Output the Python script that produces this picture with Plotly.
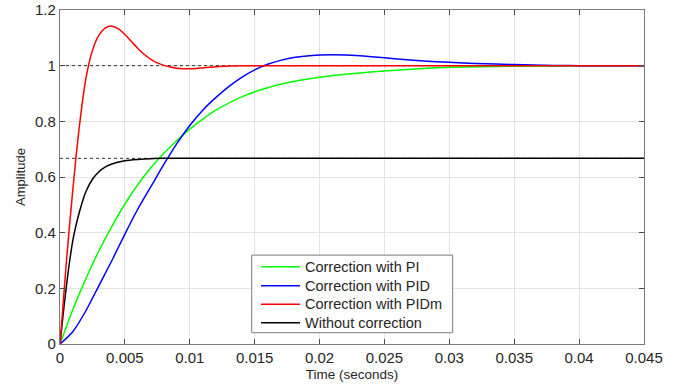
import plotly.graph_objects as go

# Time samples (seconds) and amplitudes
t_pi = [0, 0.001, 0.002, 0.003, 0.004, 0.005, 0.006, 0.007, 0.008, 0.009, 0.01,
        0.011, 0.012, 0.014, 0.016, 0.018, 0.02, 0.022, 0.025, 0.028, 0.03, 0.035, 0.04, 0.045]
y_pi = [0, 0.125, 0.235, 0.335, 0.423, 0.503, 0.573, 0.633, 0.685, 0.731, 0.772,
        0.808, 0.84, 0.888, 0.921, 0.943, 0.958, 0.969, 0.981, 0.99, 0.994, 0.998, 1.0, 1.0]

t_pid = [0, 0.001, 0.002, 0.003, 0.004, 0.005, 0.006, 0.007, 0.008, 0.009, 0.01,
         0.011, 0.012, 0.013, 0.014, 0.015, 0.016, 0.017, 0.018, 0.019, 0.02, 0.021,
         0.022, 0.024, 0.026, 0.028, 0.03, 0.032, 0.035, 0.038, 0.04, 0.045]
y_pid = [0, 0.045, 0.12, 0.21, 0.30, 0.395, 0.485, 0.565, 0.645, 0.72, 0.785,
         0.84, 0.885, 0.925, 0.958, 0.985, 1.005, 1.019, 1.029, 1.035, 1.038, 1.039,
         1.038, 1.032, 1.024, 1.017, 1.012, 1.008, 1.004, 1.001, 1.0, 1.0]

t_pidm = [0, 0.0005, 0.001, 0.0015, 0.002, 0.0025, 0.003, 0.0035, 0.004, 0.0045,
          0.005, 0.0055, 0.006, 0.0065, 0.007, 0.0075, 0.008, 0.0085, 0.009, 0.0095,
          0.01, 0.0105, 0.011, 0.0115, 0.012, 0.013, 0.014, 0.02, 0.045]
y_pidm = [0, 0.30, 0.56, 0.785, 0.955, 1.055, 1.11, 1.136, 1.142, 1.132,
          1.112, 1.087, 1.062, 1.04, 1.023, 1.01, 1.001, 0.995, 0.991, 0.989,
          0.989, 0.99, 0.992, 0.994, 0.996, 0.999, 1.0, 1.0, 1.0]

t_none = [0, 0.00025, 0.0005, 0.00075, 0.001, 0.00125, 0.0015, 0.00175, 0.002, 0.0025,
          0.003, 0.0035, 0.004, 0.005, 0.006, 0.007, 0.008, 0.045]
y_none = [0, 0.11, 0.21, 0.30, 0.375, 0.43, 0.475, 0.515, 0.548, 0.592,
          0.619, 0.636, 0.647, 0.658, 0.663, 0.666, 0.667, 0.667]

steady_levels = [1.0, 0.667]
x_range = [0, 0.045]

x_ticks = [0, 0.005, 0.01, 0.015, 0.02, 0.025, 0.03, 0.035, 0.04, 0.045]
x_tick_labels = ["0", "0.005", "0.01", "0.015", "0.02", "0.025", "0.03", "0.035", "0.04", "0.045"]
y_ticks = [0, 0.2, 0.4, 0.6, 0.8, 1.0, 1.2]
y_tick_labels = ["0", "0.2", "0.4", "0.6", "0.8", "1", "1.2"]

names = ["Correction with PI", "Correction with PID", "Correction with PIDm", "Without correction"]
colors = ["#00ff00", "#0000ff", "#ff0000", "#000000"]

FONT = "Liberation Sans, Arial"
TXT = "#262626"

fig = go.Figure()

for lvl in steady_levels:
    fig.add_trace(go.Scatter(x=x_range, y=[lvl, lvl], mode="lines",
                             line=dict(color="black", width=0.8, dash="dot"),
                             showlegend=False, hoverinfo="skip"))

series = [(t_pi, y_pi, 0), (t_pid, y_pid, 1), (t_none, y_none, 3), (t_pidm, y_pidm, 2)]
for tx, ty, i in series:
    fig.add_trace(go.Scatter(x=tx, y=ty, mode="lines", name=names[i],
                             line=dict(color=colors[i], width=1.5, shape="spline", smoothing=0.8),
                             showlegend=False))

# Legend drawn as a boxed panel (paper coordinates)
box_x0, box_x1, box_y0, box_y1 = 0.3283, 0.6724, 0.0338, 0.2661
sample_x0, sample_x1, text_x = 0.3442, 0.4110, 0.4155
row_y = [0.2311, 0.1743, 0.1187, 0.0637]

fig.add_shape(type="rect", xref="paper", yref="paper", x0=box_x0, x1=box_x1, y0=box_y0, y1=box_y1,
              line=dict(color="#7a7a7a", width=1), fillcolor="white", layer="above")
for i, name in enumerate(names):
    fig.add_shape(type="line", xref="paper", yref="paper", x0=sample_x0, x1=sample_x1,
                  y0=row_y[i], y1=row_y[i], line=dict(color=colors[i], width=1.5), layer="above")
    fig.add_annotation(xref="paper", yref="paper", x=text_x, y=row_y[i], text=name,
                       showarrow=False, xanchor="left", yanchor="middle",
                       font=dict(family=FONT, size=14.5, color=TXT))

axis_common = dict(showline=True, linecolor="#7a7a7a", linewidth=1.2, mirror="ticks",
                   ticks="inside", ticklen=5, tickcolor="#4d4d4d", tickwidth=1,
                   showgrid=True, gridcolor="#e3e3e3", gridwidth=1, zeroline=False,
                   automargin=False,
                   tickfont=dict(family=FONT, size=15, color=TXT))

fig.update_xaxes(range=x_range, tickvals=x_ticks, ticktext=x_tick_labels,
                 title=dict(text="Time (seconds)", font=dict(family=FONT, size=13.5, color=TXT),
                            standoff=4),
                 **axis_common)
fig.update_yaxes(range=[0, 1.2], tickvals=y_ticks, ticktext=y_tick_labels,
                 title=dict(text="Amplitude", font=dict(family=FONT, size=13, color=TXT),
                            standoff=6),
                 **axis_common)

fig.update_layout(
    width=679, height=389,
    margin=dict(l=60, r=35, t=10, b=45),
    paper_bgcolor="white", plot_bgcolor="white",
    showlegend=False,
)

fig.write_html("out.html")
